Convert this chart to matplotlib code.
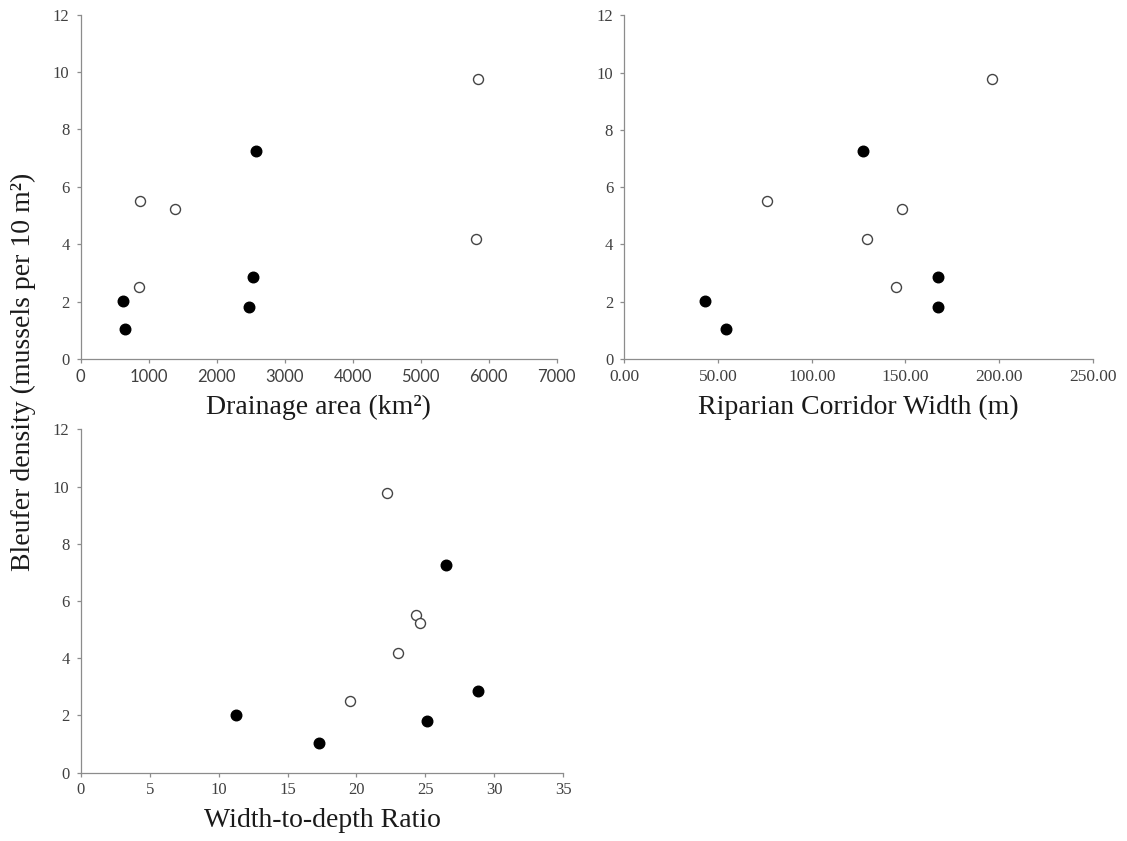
import matplotlib
matplotlib.use("Agg")
import matplotlib.pyplot as plt
from matplotlib.ticker import FormatStrFormatter

# bleufer density per site (mussels per 10 m^2), two site groups
dens_closed = [2.03, 1.04, 7.25, 2.87, 1.82]
dens_open = [5.52, 5.23, 2.52, 9.76, 4.19]

# drainage area (km^2)
drain_closed = [618, 651, 2573, 2538, 2480]
drain_open = [872, 1387, 862, 5847, 5813]

# riparian corridor width (m)
ripar_closed = [43.1, 54.1, 127.5, 167.2, 167.2]
ripar_open = [76.0, 148.4, 145.0, 196.2, 129.7]

# width-to-depth ratio
wd_closed = [11.3, 17.3, 26.5, 28.8, 25.1]
wd_open = [24.3, 24.6, 19.5, 22.2, 23.0]

y_ticks = [0, 2, 4, 6, 8, 10, 12]

SERIF = ["Liberation Serif", "DejaVu Serif"]
SANS = ["Liberation Sans Narrow", "Lato", "DejaVu Sans"]
AXIS_GREY = "#8c8c8c"
TEXT_GREY = "#404040"

fig = plt.figure(figsize=(11.27, 8.41), dpi=100)


def setup(ax, xmax, xstep, xfont, xsize, xlabel, fmt=None):
    for side in ["top", "right"]:
        ax.spines[side].set_visible(False)
    for side in ["left", "bottom"]:
        ax.spines[side].set_color(AXIS_GREY)
        ax.spines[side].set_linewidth(0.9)
    ax.set_xlim(0, xmax)
    ax.set_ylim(0, 12)
    ax.set_xticks([i * xstep for i in range(int(round(xmax / xstep)) + 1)])
    ax.set_yticks(y_ticks)
    if fmt:
        ax.xaxis.set_major_formatter(FormatStrFormatter(fmt))
    ax.tick_params(direction="out", length=3, width=0.9, color=AXIS_GREY,
                   labelcolor=TEXT_GREY, labelsize=12)
    ax.tick_params(axis="y", pad=5)
    ax.tick_params(axis="x", pad=4, labelsize=xsize)
    for t in ax.get_yticklabels():
        t.set_family(SERIF)
    for t in ax.get_xticklabels():
        t.set_family(xfont)
    ax.text(0.5, -0.14, xlabel, transform=ax.transAxes, ha="center",
            va="center", fontsize=20, family=SERIF, color="#1a1a1a")


def points(ax, xc, xo):
    ax.plot(xc, dens_closed, "o", ms=7.6, color="black", mec="black",
            clip_on=False)
    ax.plot(xo, dens_open, "o", ms=7.2, mfc="white", mec="#444444",
            mew=1.0, clip_on=False)


ax1 = fig.add_axes([0.0716, 0.5731, 0.4224, 0.4094])
points(ax1, drain_closed, drain_open)
setup(ax1, 7000, 1000, SANS, 12, "Drainage area (km²)")

ax2 = fig.add_axes([0.5540, 0.5731, 0.4156, 0.4087])
points(ax2, ripar_closed, ripar_open)
setup(ax2, 250, 50, SERIF, 12.5, "Riparian Corridor Width (m)", fmt="%.2f")

ax3 = fig.add_axes([0.0716, 0.0812, 0.4282, 0.4083])
points(ax3, wd_closed, wd_open)
setup(ax3, 35, 5, SERIF, 12, "Width-to-depth Ratio")

fig.text(23 / 1127, 1 - 372 / 841, "Bleufer density (mussels per 10 m²)",
         rotation=90, ha="center", va="center", fontsize=20, family=SERIF,
         color="#1a1a1a")

fig.savefig("out.png", dpi=100, facecolor="white")
